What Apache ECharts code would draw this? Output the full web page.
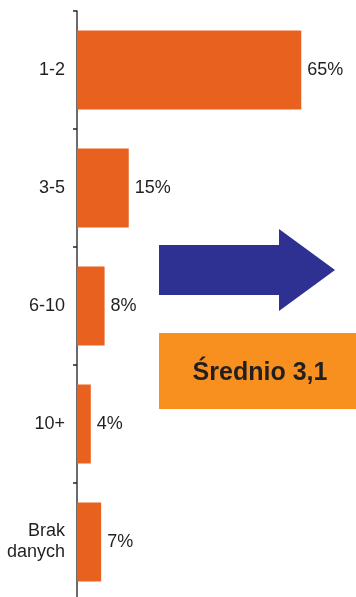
<!DOCTYPE html>
<html>
<head>
<meta charset="utf-8">
<script src="https://cdn.jsdelivr.net/npm/echarts@6/dist/echarts.min.js"></script>
<style>
html,body{margin:0;padding:0;background:#fff;overflow:hidden;}
#chart{width:356px;height:606px;}
</style>
</head>
<body>
<div id="chart"></div>
<script>
const categories = ['1-2', '3-5', '6-10', '10+', 'Brak\ndanych'];
const values = [65, 15, 8, 4, 7];
const averageText = 'Średnio 3,1';

const FONT = '"Liberation Sans", Arial, Helvetica, sans-serif';
const chart = echarts.init(document.getElementById('chart'));
chart.setOption({
  animation: false,
  backgroundColor: '#ffffff',
  grid: { left: 77, top: 11, height: 590, right: 3 },
  xAxis: {
    type: 'value', min: 0, max: 80,
    show: false
  },
  yAxis: {
    type: 'category',
    data: categories,
    inverse: true,
    axisLine: { show: true, lineStyle: { color: '#3a3a3a', width: 1.5 } },
    axisTick: { show: true, length: 4, lineStyle: { color: '#222', width: 1.5 } },
    axisLabel: {
      margin: 12, color: '#231f20', fontSize: 18, fontFamily: FONT,
      lineHeight: 21, align: 'right'
    },
    splitLine: { show: false }
  },
  series: [{
    type: 'bar',
    data: values,
    barWidth: 79,
    itemStyle: { color: '#E8611F' },
    label: {
      show: true, position: 'right', distance: 6,
      formatter: '{c}%', color: '#231f20', fontSize: 18, fontFamily: FONT
    }
  }],
  graphic: [
    {
      type: 'polygon',
      shape: { points: [[159,245],[279,245],[279,229],[335,270],[279,311],[279,295],[159,295]] },
      style: { fill: '#2E3192' }
    },
    {
      type: 'rect',
      shape: { x: 159, y: 333, width: 197, height: 76 },
      style: { fill: '#F7901E' }
    },
    {
      type: 'text',
      x: 260, y: 373,
      style: {
        text: averageText, fill: '#231f20', font: 'bold 25px ' + FONT,
        align: 'center', verticalAlign: 'middle'
      }
    }
  ]
});
</script>
</body>
</html>
